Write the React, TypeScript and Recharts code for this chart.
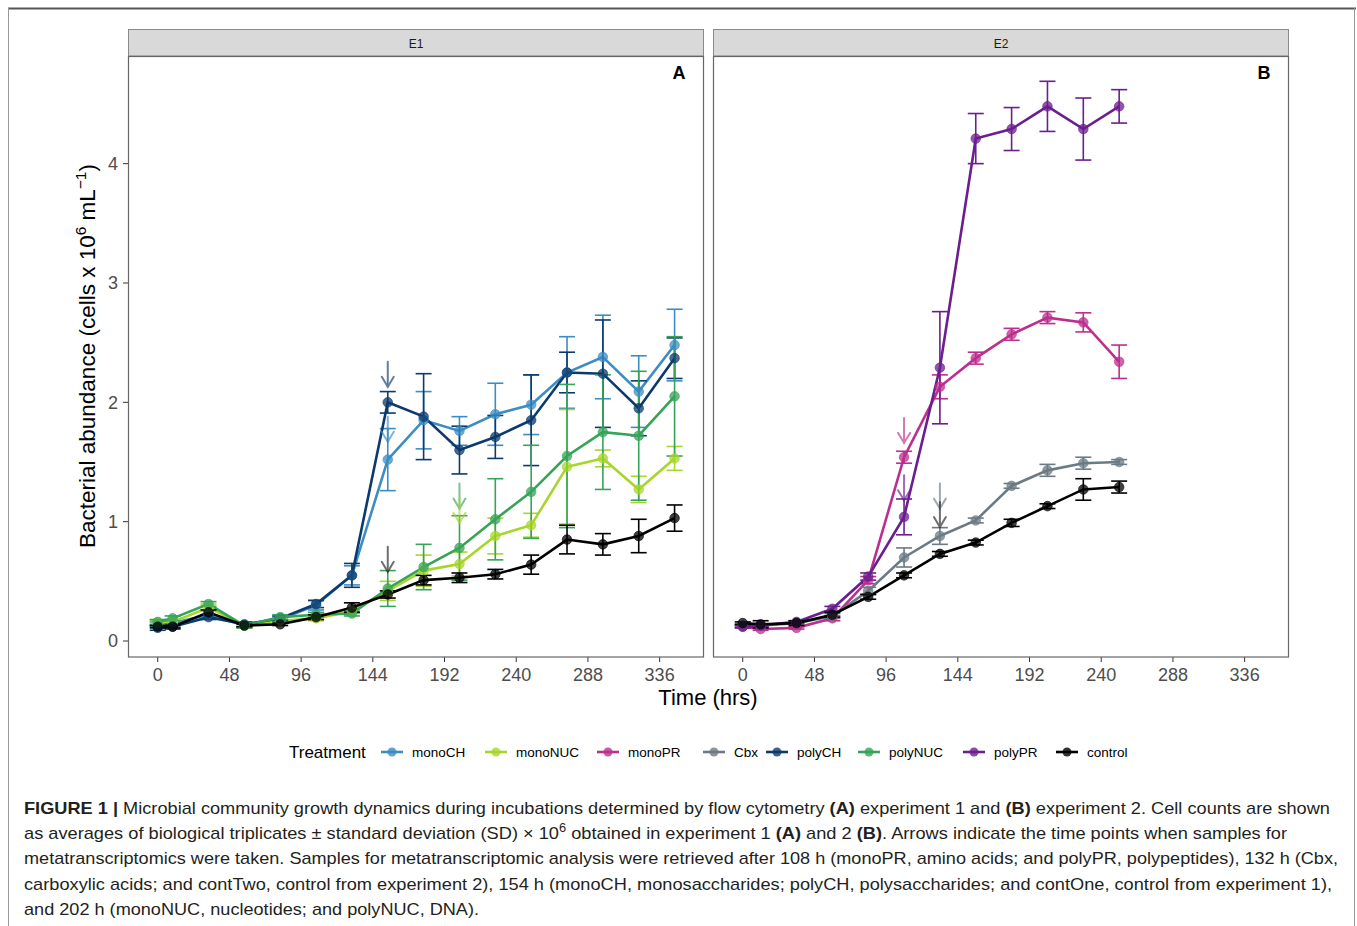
import React from "react";
import { ComposedChart, Line, ErrorBar, XAxis, YAxis, ReferenceDot } from "recharts";

// sampling times (hrs)
const timesE1 = [0, 10, 34, 58, 82, 106, 130, 154, 178, 202, 226, 250, 274, 298, 322, 346];
const timesE2 = [0, 12, 36, 60, 84, 108, 132, 156, 180, 204, 228, 252];
const xTicks = [0, 48, 96, 144, 192, 240, 288, 336];
const yTicks = [0, 1, 2, 3, 4];

// experiment 1 (cells x 10^6 / mL), mean and SD
const monoCH = [0.14, 0.15, 0.22, 0.13, 0.18, 0.3, 0.55, 1.52, 1.85, 1.76, 1.9, 1.98, 2.25, 2.38, 2.09, 2.48];
const monoCHsd = [0.02, 0.02, 0.03, 0.02, 0.02, 0.04, 0.08, 0.26, 0.24, 0.12, 0.26, 0.25, 0.3, 0.35, 0.3, 0.3];
const monoNUC = [0.15, 0.16, 0.28, 0.13, 0.17, 0.19, 0.25, 0.42, 0.59, 0.645, 0.88, 0.97, 1.46, 1.53, 1.27, 1.53];
const monoNUCsd = [0.02, 0.02, 0.03, 0.02, 0.02, 0.02, 0.02, 0.08, 0.13, 0.1, 0.15, 0.1, 0.48, 0.07, 0.11, 0.1];
const polyCH = [0.11, 0.12, 0.2, 0.14, 0.19, 0.31, 0.55, 2.0, 1.88, 1.6, 1.71, 1.85, 2.25, 2.24, 1.95, 2.37];
const polyCHsd = [0.02, 0.02, 0.02, 0.02, 0.02, 0.03, 0.1, 0.09, 0.36, 0.2, 0.18, 0.38, 0.17, 0.45, 0.23, 0.17];
const polyNUC = [0.16, 0.19, 0.31, 0.13, 0.2, 0.22, 0.23, 0.44, 0.62, 0.78, 1.02, 1.25, 1.55, 1.75, 1.72, 2.05];
const polyNUCsd = [0.02, 0.02, 0.02, 0.02, 0.02, 0.02, 0.02, 0.15, 0.19, 0.27, 0.34, 0.39, 0.6, 0.48, 0.54, 0.5];
const controlE1 = [0.12, 0.12, 0.24, 0.13, 0.14, 0.2, 0.28, 0.39, 0.51, 0.53, 0.56, 0.64, 0.85, 0.81, 0.88, 1.03];
const controlE1sd = [0.01, 0.01, 0.02, 0.01, 0.01, 0.02, 0.04, 0.03, 0.04, 0.04, 0.04, 0.08, 0.12, 0.09, 0.14, 0.11];

// experiment 2
const monoPR = [0.12, 0.1, 0.11, 0.19, 0.51, 1.54, 2.13, 2.37, 2.57, 2.71, 2.67, 2.34];
const monoPRsd = [0.01, 0.01, 0.01, 0.02, 0.03, 0.05, 0.1, 0.05, 0.05, 0.05, 0.08, 0.14];
const Cbx = [0.13, 0.13, 0.15, 0.21, 0.42, 0.7, 0.88, 1.01, 1.3, 1.43, 1.49, 1.5];
const Cbxsd = [0.01, 0.01, 0.01, 0.02, 0.03, 0.08, 0.07, 0.02, 0.02, 0.05, 0.05, 0.02];
const polyPR = [0.12, 0.13, 0.16, 0.27, 0.54, 1.04, 2.29, 4.21, 4.29, 4.48, 4.29, 4.48];
const polyPRsd = [0.01, 0.01, 0.01, 0.02, 0.03, 0.15, 0.47, 0.21, 0.18, 0.21, 0.26, 0.14];
const controlE2 = [0.15, 0.14, 0.15, 0.22, 0.37, 0.55, 0.73, 0.825, 0.99, 1.13, 1.27, 1.29];
const controlE2sd = [0.01, 0.03, 0.02, 0.02, 0.02, 0.02, 0.02, 0.02, 0.03, 0.02, 0.09, 0.05];

// sampling arrows (time, tip value)
const arrowsE1 = [
  { t: 154, v: 2.13, s: "polyCH" },
  { t: 154, v: 1.67, s: "monoCH" },
  { t: 154, v: 0.58, s: "control" },
  { t: 202, v: 1.11, s: "polyNUC" },
  { t: 202, v: 0.99, s: "monoNUC" },
];
const arrowsE2 = [
  { t: 108, v: 1.66, s: "monoPR" },
  { t: 108, v: 1.18, s: "polyPR" },
  { t: 132, v: 1.11, s: "Cbx" },
  { t: 132, v: 0.955, s: "control" },
];

const treatments = ["monoCH", "monoNUC", "monoPR", "Cbx", "polyCH", "polyNUC", "polyPR", "control"];
const colors: Record<string, string> = {
  monoCH: "#3b8dc4",
  monoNUC: "#a8d52a",
  monoPR: "#bc2f8e",
  Cbx: "#6b7b86",
  polyCH: "#0c3a6d",
  polyNUC: "#35a358",
  polyPR: "#6b1e8e",
  control: "#000000",
};

const toSeries = (times: number[], mean: number[], sd: number[]) =>
  times.map((t, i) => ({ t, v: mean[i], sd: sd[i] }));

const seriesE1 = [
  { name: "monoCH", data: toSeries(timesE1, monoCH, monoCHsd) },
  { name: "monoNUC", data: toSeries(timesE1, monoNUC, monoNUCsd) },
  { name: "polyCH", data: toSeries(timesE1, polyCH, polyCHsd) },
  { name: "polyNUC", data: toSeries(timesE1, polyNUC, polyNUCsd) },
  { name: "control", data: toSeries(timesE1, controlE1, controlE1sd) },
];
const seriesE2 = [
  { name: "monoPR", data: toSeries(timesE2, monoPR, monoPRsd) },
  { name: "Cbx", data: toSeries(timesE2, Cbx, Cbxsd) },
  { name: "polyPR", data: toSeries(timesE2, polyPR, polyPRsd) },
  { name: "control", data: toSeries(timesE2, controlE2, controlE2sd) },
];

const X_DOMAIN: [number, number] = [-19.9, 365.7];
const Y_DOMAIN: [number, number] = [-0.134, 4.902];
const FONT = "'Liberation Sans', Arial, Helvetica, sans-serif";

const Arrow = (color: string) => (props: any) => {
  const { cx, cy } = props;
  if (cx == null || cy == null) return <g />;
  return (
    <g stroke={color} strokeWidth={2} fill="none" opacity={0.65} strokeLinecap="round">
      <line x1={cx} y1={cy - 25} x2={cx} y2={cy} />
      <polyline points={`${cx - 6},${cy - 10} ${cx},${cy} ${cx + 6},${cy - 10}`} />
    </g>
  );
};

function Panel({ series, arrows, showY, left, width }: any) {
  return (
    <div style={{ position: "absolute", left, top: 56 }}>
      <ComposedChart width={width} height={641} margin={{ top: 0, right: 0, bottom: 0, left: 0 }}>
        <XAxis
          type="number"
          dataKey="t"
          domain={X_DOMAIN}
          ticks={xTicks}
          interval={0}
          allowDataOverflow
          axisLine={false}
          tickSize={5}
          tickMargin={6}
          tickLine={{ stroke: "#333" }}
          tick={{ fontSize: 18, fill: "#4d4d4d", fontFamily: FONT }}
          height={40}
        />
        <YAxis
          type="number"
          dataKey="v"
          domain={Y_DOMAIN}
          ticks={yTicks}
          interval={0}
          allowDataOverflow
          hide={!showY}
          width={50}
          axisLine={false}
          tickSize={5}
          tickMargin={5}
          tickLine={{ stroke: "#333" }}
          tick={{ fontSize: 18, fill: "#4d4d4d", fontFamily: FONT }}
        />
        {series.map((s: any) => {
          const c = colors[s.name];
          return (
            <Line
              key={s.name}
              data={s.data}
              dataKey="v"
              stroke={c}
              strokeWidth={2.6}
              dot={{ r: 4.8, fill: c, fillOpacity: 0.75, stroke: c, strokeOpacity: 0.6, strokeWidth: 1 }}
              activeDot={false}
              isAnimationActive={false}
            >
              <ErrorBar dataKey="sd" width={8} stroke={c} strokeWidth={1.6} direction="y" isAnimationActive={false} />
            </Line>
          );
        })}
        {arrows.map((a: any, i: number) => (
          <ReferenceDot key={i} x={a.t} y={a.v} r={0} shape={Arrow(colors[a.s] === "#000000" ? "#222" : colors[a.s])} />
        ))}
      </ComposedChart>
    </div>
  );
}

function Overlay() {
  const legendX = [381, 485, 597, 703, 766, 858, 963, 1056];
  return (
    <svg width={1357} height={926} style={{ position: "absolute", left: 0, top: 0, pointerEvents: "none" }} fontFamily={FONT}>
      {/* frame */}
      <line x1={8} y1={8.5} x2={1356} y2={8.5} stroke="#555" strokeWidth={2} />
      <line x1={8.5} y1={8} x2={8.5} y2={926} stroke="#999" strokeWidth={1} />
      <line x1={1354.5} y1={8} x2={1354.5} y2={926} stroke="#999" strokeWidth={1} />

      {/* strips */}
      {[
        { x: 128, label: "E1", tag: "A" },
        { x: 713, label: "E2", tag: "B" },
      ].map((p) => (
        <g key={p.label}>
          <rect x={p.x + 0.5} y={29.5} width={575} height={26.5} fill="#d9d9d9" stroke="#8a8a8a" strokeWidth={1} />
          <text x={p.x + 288} y={48} fontSize={12} fill="#1a1a1a" textAnchor="middle">
            {p.label}
          </text>
          <rect x={p.x + 0.5} y={56.5} width={575} height={600.5} fill="none" stroke="#666" strokeWidth={1.2} />
          <text x={p.x + 551} y={79} fontSize={18} fontWeight="bold" fill="#000" textAnchor="middle">
            {p.tag}
          </text>
        </g>
      ))}

      {/* axis titles */}
      <text transform="translate(95,356) rotate(-90)" fontSize={22.5} fill="#000" textAnchor="middle">
        Bacterial abundance (cells x 10
        <tspan fontSize={15.5} dy={-9}>6</tspan>
        <tspan dy={9}> mL</tspan>
        <tspan fontSize={15.5} dy={-9}>−1</tspan>
        <tspan dy={9}>)</tspan>
      </text>
      <text x={708} y={705} fontSize={22} fill="#000" textAnchor="middle">
        Time (hrs)
      </text>

      {/* legend */}
      <text x={289} y={758} fontSize={17} fill="#000">
        Treatment
      </text>
      {treatments.map((t, i) => (
        <g key={t}>
          <line x1={legendX[i]} y1={752} x2={legendX[i] + 22} y2={752} stroke={colors[t]} strokeWidth={2.6} />
          <circle cx={legendX[i] + 11} cy={752} r={4.5} fill={colors[t]} fillOpacity={0.8} />
          <text x={legendX[i] + 31} y={757} fontSize={13.5} fill="#000">
            {t}
          </text>
        </g>
      ))}

      {/* caption */}
      <g fontSize={17} fill="#231f20" fontFamily="'Liberation Sans Narrow', 'Liberation Sans', Arial, sans-serif">
        <text x={24} y={814} textLength={1306} lengthAdjust="spacingAndGlyphs">
          <tspan fontWeight="bold">FIGURE 1 |</tspan> Microbial community growth dynamics during incubations determined by flow cytometry{" "}
          <tspan fontWeight="bold">(A)</tspan> experiment 1 and <tspan fontWeight="bold">(B)</tspan> experiment 2. Cell counts are shown
        </text>
        <text x={24} y={839} textLength={1263} lengthAdjust="spacingAndGlyphs">
          as averages of biological triplicates ± standard deviation (SD) × 10
          <tspan fontSize={12} dy={-7}>6</tspan>
          <tspan dy={7}> obtained in experiment 1 </tspan>
          <tspan fontWeight="bold">(A)</tspan> and 2 <tspan fontWeight="bold">(B)</tspan>. Arrows indicate the time points when samples for
        </text>
        <text x={24} y={864} textLength={1314} lengthAdjust="spacingAndGlyphs">
          metatranscriptomics were taken. Samples for metatranscriptomic analysis were retrieved after 108 h (monoPR, amino acids; and polyPR, polypeptides), 132 h (Cbx,
        </text>
        <text x={24} y={890} textLength={1308} lengthAdjust="spacingAndGlyphs">
          carboxylic acids; and contTwo, control from experiment 2), 154 h (monoCH, monosaccharides; polyCH, polysaccharides; and contOne, control from experiment 1),
        </text>
        <text x={24} y={915} textLength={455} lengthAdjust="spacingAndGlyphs">
          and 202 h (monoNUC, nucleotides; and polyNUC, DNA).
        </text>
      </g>
    </svg>
  );
}

export default function App() {
  return (
    <div style={{ position: "absolute", left: 0, top: 0, width: 1357, height: 926, background: "#fff", fontFamily: FONT }}>
      <Panel series={seriesE1} arrows={arrowsE1} showY left={78} width={626} />
      <Panel series={seriesE2} arrows={arrowsE2} showY={false} left={713} width={576} />
      <Overlay />
    </div>
  );
}
